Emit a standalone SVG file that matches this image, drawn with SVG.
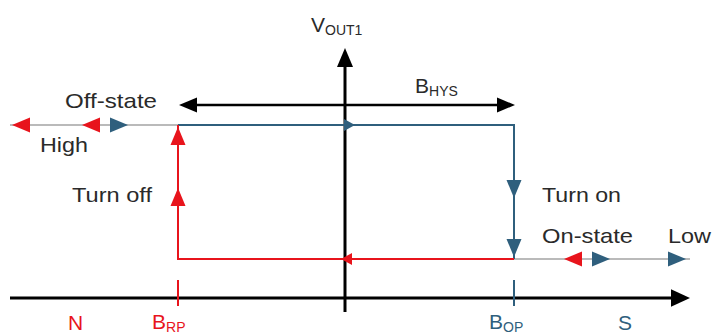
<svg xmlns="http://www.w3.org/2000/svg" width="713" height="335" viewBox="0 0 713 335">
  <style>
    .lbl { font-family: "Liberation Sans", Arial, sans-serif; font-size: 21px; fill: #2a2a2a; }
    .sub { font-size: 14px; }
    .red { fill: #e8141c; }
    .blu { fill: #2f5f7d; }
    .grey { stroke: #a3a3a3; stroke-width: 1.6; fill: none; }
    .rline { stroke: #e8141c; stroke-width: 2; fill: none; }
    .bline { stroke: #2f5f7d; stroke-width: 2; fill: none; }
    .axis { stroke: #000; stroke-width: 3; fill: none; }
  </style>
  <defs>
    <!-- triangles pointing right, tip at origin -->
    <path id="tri" d="M0,0 L-18,-7.5 L-18,7.5 Z"/>
    <path id="triS" d="M0,0 L-11,-6 L-11,6 Z"/>
    <path id="triK" d="M0,0 L-19,-8 L-19,8 Z"/>
  </defs>

  <rect width="713" height="335" fill="#ffffff"/>

  <!-- axes -->
  <g id="axes">
    <line class="axis" x1="10" y1="298" x2="672" y2="298"/>
    <use href="#triK" transform="translate(690,298) scale(1,1.1)" fill="#000"/>
    <line class="axis" x1="345" y1="312" x2="345" y2="64"/>
    <use href="#triK" transform="translate(345,48) rotate(-90)" fill="#000"/>
  </g>

  <!-- hysteresis loop and state lines -->
  <g id="connectors">
    <line class="grey" x1="10" y1="125" x2="178" y2="125"/>
    <line class="grey" x1="514" y1="259" x2="690" y2="259"/>
    <polyline class="bline" points="178,125 514,125 514,259"/>
    <polyline class="rline" points="514,259 178,259 178,125"/>
    <line class="rline" x1="178" y1="280" x2="178" y2="306"/>
    <line class="bline" x1="514" y1="280" x2="514" y2="306" stroke-width="1.5"/>

    <!-- hysteresis width -->
    <line stroke="#000" stroke-width="2.5" x1="195" y1="105" x2="498" y2="105"/>
    <use href="#tri" transform="translate(179,105) rotate(180)" fill="#000"/>
    <use href="#tri" transform="translate(515,105)" fill="#000"/>

    <!-- direction markers -->
    <use href="#tri" transform="translate(12,125) rotate(180)" class="red"/>
    <use href="#tri" transform="translate(82,125) rotate(180)" class="red"/>
    <use href="#tri" transform="translate(128,125)" class="blu"/>
    <use href="#triS" transform="translate(355,125)" class="blu"/>
    <use href="#tri" transform="translate(514,198) rotate(90)" class="blu"/>
    <use href="#tri" transform="translate(514,257) rotate(90)" class="blu"/>
    <use href="#tri" transform="translate(178,127) rotate(-90)" class="red"/>
    <use href="#tri" transform="translate(178,188) rotate(-90)" class="red"/>
    <use href="#triS" transform="translate(341,259) rotate(180)" class="red"/>
    <use href="#tri" transform="translate(564,259) rotate(180)" class="red"/>
    <use href="#tri" transform="translate(610,259)" class="blu"/>
    <use href="#tri" transform="translate(686,259)" class="blu"/>
  </g>

  <!-- labels -->
  <g id="labels">
    <text class="lbl" x="311" y="32" font-size="23">V<tspan class="sub" dy="3">OUT1</tspan></text>
    <text class="lbl" x="415" y="93" font-size="23">B<tspan class="sub" dy="3">HYS</tspan></text>
    <text class="lbl" x="65" y="108" textLength="92" lengthAdjust="spacingAndGlyphs">Off-state</text>
    <text class="lbl" x="40" y="152" textLength="48" lengthAdjust="spacingAndGlyphs">High</text>
    <text class="lbl" x="72" y="202" textLength="80" lengthAdjust="spacingAndGlyphs">Turn off</text>
    <text class="lbl" x="542" y="202" textLength="79" lengthAdjust="spacingAndGlyphs">Turn on</text>
    <text class="lbl" x="542" y="243" textLength="91" lengthAdjust="spacingAndGlyphs">On-state</text>
    <text class="lbl" x="668" y="243" textLength="43" lengthAdjust="spacingAndGlyphs">Low</text>
    <text class="lbl red" x="68" y="330" font-size="22">N</text>
    <text class="lbl red" x="152" y="329" font-size="22">B<tspan class="sub" dy="3">RP</tspan></text>
    <text class="lbl blu" x="489" y="329" font-size="22">B<tspan class="sub" dy="3">OP</tspan></text>
    <text class="lbl blu" x="618" y="330" font-size="22">S</text>
  </g>
</svg>
